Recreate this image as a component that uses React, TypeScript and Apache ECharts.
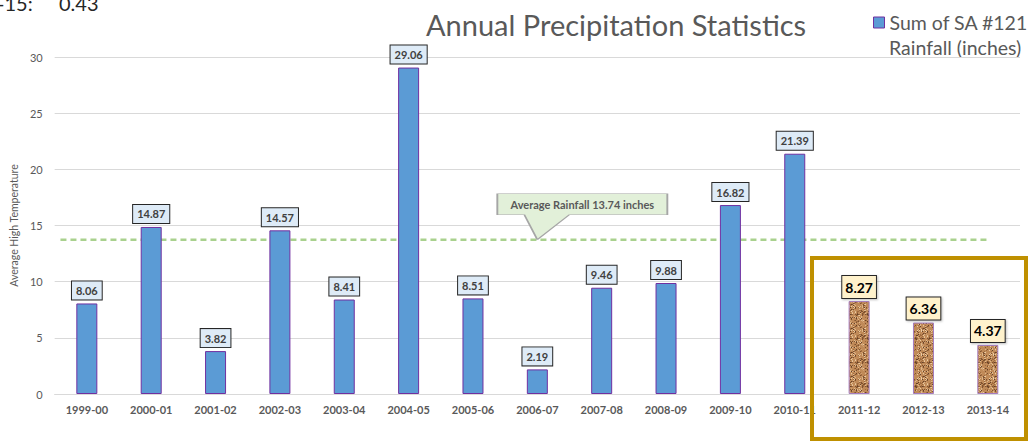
import React, { useEffect, useRef } from "react";
import * as echarts from "echarts";

const categories = ["1999-00", "2000-01", "2001-02", "2002-03", "2003-04", "2004-05", "2005-06", "2006-07", "2007-08", "2008-09", "2009-10", "2010-11", "2011-12", "2012-13", "2013-14"];
const rainfall = [8.06, 14.87, 3.82, 14.57, 8.41, 29.06, 8.51, 2.19, 9.46, 9.88, 16.82, 21.39, 8.27, 6.36, 4.37];
const highlighted = ["2011-12", "2012-13", "2013-14"];
const averageRainfall = 13.74;
const averageLineExtent = [0.09, 14.53];
const calloutCategory = "2006-07";
const yTicks = [0, 5, 10, 15, 20, 25, 30];
const seriesName = "Sum of SA #121";
const seriesNameLine2 = "Rainfall (inches)";

const FONT = "Lato";

function makeCork(): HTMLCanvasElement {
  const c = document.createElement("canvas");
  c.width = 24;
  c.height = 24;
  const ctx = c.getContext("2d")!;
  ctx.fillStyle = "#C08A58";
  ctx.fillRect(0, 0, 24, 24);
  const palette = ["#7E5230", "#DDB88C", "#9E6A3E", "#EACCA4", "#65412A", "#CFA072"];
  for (let i = 0; i < 24; i++) {
    for (let j = 0; j < 24; j++) {
      const h = (i * 37 + j * 91 + ((i * j) % 13) * 17) % 23;
      if (h < 9) {
        ctx.fillStyle = palette[h % palette.length];
        ctx.fillRect(i, j, 1, 1);
      }
    }
  }
  return c;
}

export default function App() {
  const ref = useRef<HTMLDivElement>(null);
  useEffect(() => {
    if (!ref.current) return;
    const chart = echarts.init(ref.current, null, { renderer: "svg" });
    const cork = makeCork();
    const barData = rainfall.map((v, i) => {
      const hl = highlighted.includes(categories[i]);
      if (!hl) return { value: v };
      return {
        value: v,
        itemStyle: {
          color: { image: cork, repeat: "repeat", imageWidth: 24, imageHeight: 24 } as any,
          borderColor: "#A47CC0",
          borderWidth: 1,
        },
        label: {
          fontSize: 14,
          color: "#000000",
          backgroundColor: "#FFF2CC",
          borderColor: "#262626",
          lineHeight: 16,
          padding: [3, 3, 3, 3],
          distance: 3,
          shadowColor: "rgba(0,0,0,0.25)",
          shadowBlur: 2,
          shadowOffsetX: 1,
          shadowOffsetY: 1,
        },
      };
    });
    chart.setOption({
      animation: false,
      title: {
        text: "Annual Precipitation Statistics",
        left: 421,
        top: 5,
        textStyle: { fontFamily: FONT, fontSize: 29, fontWeight: "normal", color: "#595959" },
      },
      legend: {
        left: 873,
        top: 12,
        padding: 0,
        icon: "rect",
        itemWidth: 11,
        itemHeight: 11,
        data: [seriesName],
        textStyle: { fontFamily: FONT, fontSize: 19.5, color: "#595959", lineHeight: 21 },
        itemStyle: { color: "#5B9BD5", borderColor: "#7030A0", borderWidth: 1 },
      },
      grid: { left: 51, right: 9, top: 57, bottom: 49 },
      xAxis: [
        {
          type: "category",
          data: categories,
          axisLine: { lineStyle: { color: "#D9D9D9" } },
          axisTick: { show: false },
          axisLabel: { fontFamily: FONT, fontSize: 11, fontWeight: "bold", color: "#595959", margin: 10, interval: 0 },
        },
        { type: "value", min: 0, max: categories.length, show: false },
      ],
      yAxis: {
        type: "value",
        min: yTicks[0],
        max: yTicks[yTicks.length - 1],
        interval: 5,
        name: "Average High Temperature",
        nameLocation: "middle",
        nameGap: 32,
        nameTextStyle: { fontFamily: FONT, fontSize: 10.5, color: "#595959" },
        axisLine: { show: false },
        axisTick: { show: false },
        axisLabel: { fontFamily: FONT, fontSize: 11, color: "#595959", margin: 12 },
        splitLine: { lineStyle: { color: "#D9D9D9", width: 1 } },
      },
      series: [
        {
          name: seriesName,
          type: "bar",
          barWidth: 21,
          data: barData,
          itemStyle: { color: "#5B9BD5", borderColor: "#7030A0", borderWidth: 1 },
          label: {
            show: true,
            position: "top",
            distance: 4,
            formatter: (p: any) => Number(p.value).toFixed(2),
            fontFamily: FONT,
            fontSize: 11,
            fontWeight: "bold",
            color: "#404040",
            backgroundColor: "#DEEBF7",
            borderColor: "#262626",
            borderWidth: 1,
            lineHeight: 12,
            padding: [3, 4, 3, 4],
          },
          markPoint: {
            symbol: "path://M0,0 L170,0 L170,21 L72,21 L40,46 L27,21 L0,21 Z",
            symbolSize: [170, 46],
            symbolOffset: [45, -23],
            itemStyle: { color: "#E2F0D9", borderColor: "#A6A6A6", borderWidth: 1 },
            label: {
              show: true,
              position: "inside",
              offset: [0, -12.5],
              formatter: `Average Rainfall ${averageRainfall.toFixed(2)} inches`,
              fontFamily: FONT,
              fontSize: 11,
              fontWeight: "bold",
              color: "#595959",
            },
            data: [{ coord: [calloutCategory, averageRainfall] }],
            z: 10,
          },
        },
        {
          name: "Average",
          type: "line",
          xAxisIndex: 1,
          symbol: "none",
          data: averageLineExtent.map((x) => [x, averageRainfall]),
          lineStyle: { color: "#A9D18E", width: 2.5, type: [6, 4] },
          z: 1,
        },
      ],
      graphic: [
        {
          type: "text",
          x: 889,
          y: 47,
          style: { text: seriesNameLine2, font: `19.5px ${FONT}`, fill: "#595959", verticalAlign: "middle" },
        },
        {
          type: "text",
          x: -3,
          y: 13,
          style: { text: "-15:", font: "20px Lato", fill: "#262626", verticalAlign: "bottom" },
        },
        {
          type: "text",
          x: 59,
          y: 13,
          style: { text: "0.43", font: "20px Lato", fill: "#262626", verticalAlign: "bottom" },
        },
        {
          type: "rect",
          shape: { x: 812, y: 258, width: 214, height: 181 },
          style: { fill: "none", stroke: "#BF9000", lineWidth: 4 },
          z: 100,
        },
      ],
    });
    return () => chart.dispose();
  }, []);
  return <div ref={ref} style={{ width: 1029, height: 443, position: "absolute", left: 0, top: 0 }} />;
}
